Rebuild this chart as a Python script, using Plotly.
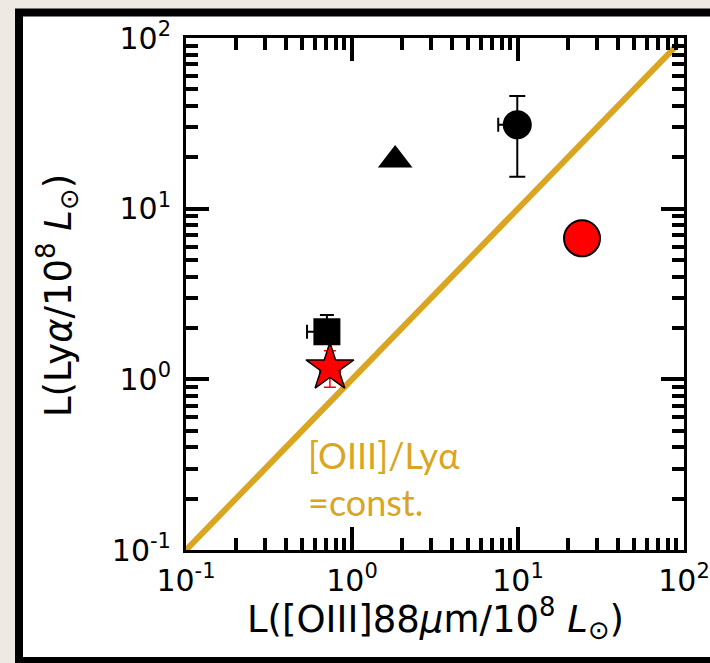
import plotly.graph_objects as go

# Luminosities in units of 1e8 Lsun
tri_x, tri_y = [1.82], [19.3]

circ_x, circ_y = [9.9], [31.0]
circ_y_hi, circ_y_lo = [45.8], [15.4]
circ_x_lo = [7.6]

sq_x, sq_y = [0.706], [1.9]
sq_y_hi, sq_y_lo = [2.38], [1.65]
sq_x_lo, sq_x_hi = [0.536], [0.80]

star_x, star_y = [0.736], [1.17]
star_y_hi, star_y_lo = [1.47], [0.90]
star_x_lo, star_x_hi = [0.64], [0.85]

red_x, red_y = [24.3], [6.7]

const_x = [0.1, 93.0]
const_y = [0.1, 93.0]

major_vals = [0.1, 1, 10, 100]
major_text = ["10<sup>-1</sup>", "10<sup>0</sup>", "10<sup>1</sup>", "10<sup>2</sup>"]
minor_vals = [m * d for d in (0.1, 1, 10) for m in range(2, 10)]

W, H = 710, 663
L, R, T, B = 186, 684, 38, 550
GOLD = "#DAA520"


def px(x):
    return (x - L) / (R - L)


def py(y):
    return (B - y) / (B - T)


fig = go.Figure()

fig.add_trace(go.Scatter(
    x=const_x, y=const_y, mode="lines", cliponaxis=False,
    line=dict(color=GOLD, width=6), showlegend=False, hoverinfo="skip"))

fig.add_trace(go.Scatter(
    x=sq_x, y=sq_y, mode="markers", showlegend=False,
    marker=dict(symbol="square", size=27, color="black"),
    error_y=dict(type="data", symmetric=False,
                 array=[sq_y_hi[0] - sq_y[0]], arrayminus=[sq_y[0] - sq_y_lo[0]],
                 color="black", thickness=2, width=7),
    error_x=dict(type="data", symmetric=False,
                 array=[sq_x_hi[0] - sq_x[0]], arrayminus=[sq_x[0] - sq_x_lo[0]],
                 color="black", thickness=2, width=7)))

fig.add_trace(go.Scatter(
    x=star_x, y=star_y, mode="markers", showlegend=False,
    marker=dict(symbol="star", size=36, color="red", line=dict(color="black", width=1.5)),
    error_y=dict(type="data", symmetric=False,
                 array=[star_y_hi[0] - star_y[0]], arrayminus=[star_y[0] - star_y_lo[0]],
                 color="red", thickness=1.5, width=6),
    error_x=dict(type="data", symmetric=False,
                 array=[star_x_hi[0] - star_x[0]], arrayminus=[star_x[0] - star_x_lo[0]],
                 color="red", thickness=1.5, width=6)))

fig.add_trace(go.Scatter(
    x=circ_x, y=circ_y, mode="markers", showlegend=False,
    marker=dict(symbol="circle", size=29, color="black"),
    error_y=dict(type="data", symmetric=False,
                 array=[circ_y_hi[0] - circ_y[0]], arrayminus=[circ_y[0] - circ_y_lo[0]],
                 color="black", thickness=2, width=8),
    error_x=dict(type="data", symmetric=False,
                 array=[0], arrayminus=[circ_x[0] - circ_x_lo[0]],
                 color="black", thickness=2, width=7)))

fig.add_trace(go.Scatter(
    x=tri_x, y=tri_y, mode="markers", showlegend=False,
    marker=dict(symbol="triangle-up", size=30, color="black")))

fig.add_trace(go.Scatter(
    x=red_x, y=red_y, mode="markers", showlegend=False,
    marker=dict(symbol="circle", size=36, color="red", line=dict(color="black", width=2))))

axis_common = dict(
    type="log", range=[-1, 2], tickmode="array", tickvals=major_vals, ticktext=major_text,
    ticks="inside", ticklen=23, tickwidth=4, tickcolor="black",
    showline=True, linecolor="black", linewidth=3, mirror="allticks",
    showgrid=False, zeroline=False, automargin=False, ticklabeloverflow="allow",
    tickfont=dict(family="DejaVu Sans", size=30, color="black"),
    minor=dict(tickmode="array", tickvals=minor_vals, ticks="inside",
               ticklen=12, tickwidth=4, tickcolor="black", showgrid=False),
)

fig.update_xaxes(**axis_common, ticklabelstandoff=2)
fig.update_yaxes(**axis_common, ticklabelstandoff=6)

# outer slide frame
fig.add_shape(type="rect", xref="paper", yref="paper", layer="below",
              x0=px(19), x1=px(740), y0=py(661), y1=py(12.5),
              fillcolor="white", line=dict(color="black", width=8))

fig.add_annotation(
    xref="paper", yref="paper", x=px(435), y=py(618), xanchor="center", yanchor="middle",
    showarrow=False, font=dict(family="DejaVu Sans", size=37, color="black"),
    text="L([OIII]88<i>μ</i>m/10<sup>8</sup> <i>L</i><sub>⊙</sub>)")

fig.add_annotation(
    xref="paper", yref="paper", x=px(57), y=py(296), xanchor="center", yanchor="middle",
    textangle=-90, showarrow=False, font=dict(family="DejaVu Sans", size=37, color="black"),
    text="L(Ly<i>α</i>/10<sup>8</sup> <i>L</i><sub>⊙</sub>)")

fig.add_annotation(
    xref="paper", yref="paper", x=px(306), y=py(478), xanchor="left", yanchor="middle",
    align="left", showarrow=False, font=dict(family="Lato", size=36, color=GOLD),
    text="[OIII]/Lyα<br>=const.")

fig.update_layout(
    width=W, height=H,
    margin=dict(l=L, r=W - R, t=T, b=H - B, pad=0),
    paper_bgcolor="#eeeae3", plot_bgcolor="rgba(0,0,0,0)",
)

fig.write_html("out.html")
